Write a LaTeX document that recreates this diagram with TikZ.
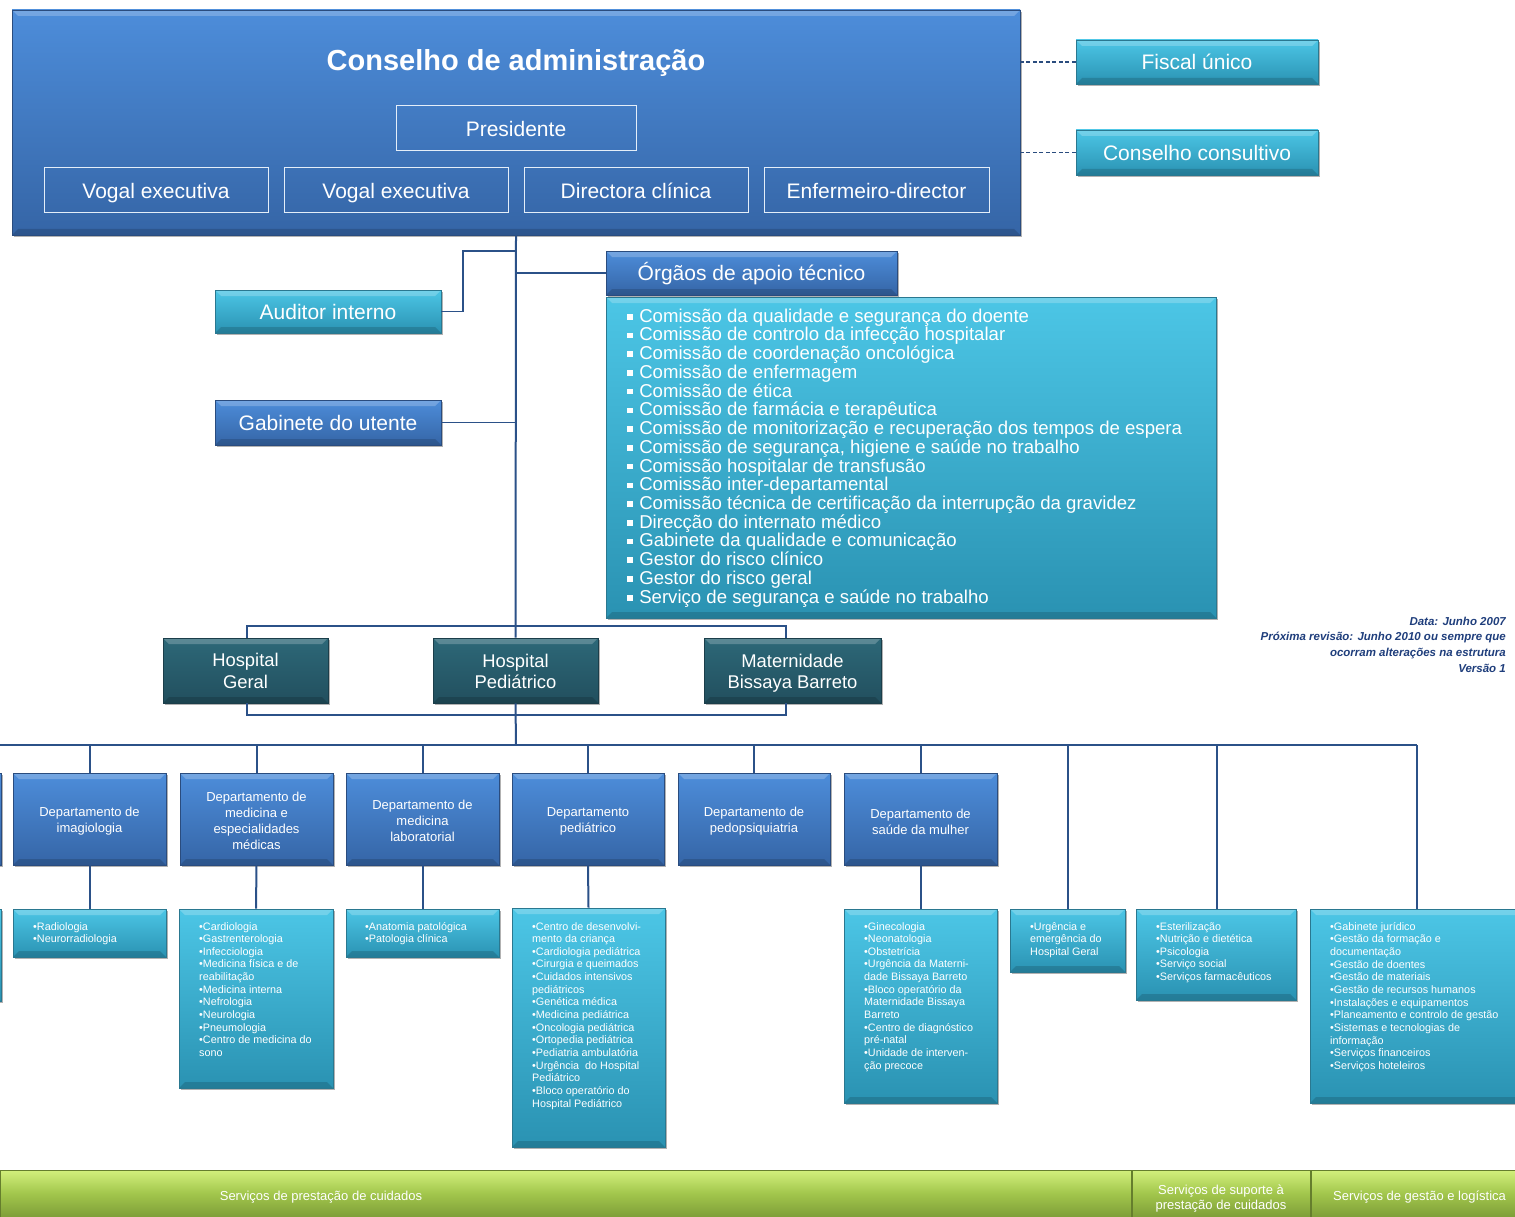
\documentclass[tikz,border=0pt]{standalone}
\usepackage{fontspec}
\setmainfont{Liberation Sans}
\usetikzlibrary{shadows}
\definecolor{blueT}{HTML}{4D8DDA}
\definecolor{blueB}{HTML}{3565A6}
\definecolor{blueD}{HTML}{2A4C7E}
\definecolor{cyanT}{HTML}{4CC6E6}
\definecolor{cyanB}{HTML}{2A92B2}
\definecolor{cyanD}{HTML}{2A7890}
\definecolor{tealT}{HTML}{2D6878}
\definecolor{tealB}{HTML}{224F5E}
\definecolor{tealD}{HTML}{1B3E4A}
\definecolor{greenT}{HTML}{D2F07C}
\definecolor{greenM}{HTML}{A2C64C}
\definecolor{greenB}{HTML}{7E9E38}
\definecolor{lineC}{HTML}{2B5188}
\definecolor{noteC}{HTML}{1F3E7C}
\newcommand\sqb{\rule[0.14em]{0.3em}{0.3em}\hspace{0.35em}}
\tikzset{
  wh/.style 2 args={minimum width=#1pt, minimum height=#2pt},
  bevel/.style={path picture={
     \fill[white,opacity=0.22] (path picture bounding box.north west) -- (path picture bounding box.north east)
        -- ([xshift=-6pt,yshift=-6pt]path picture bounding box.north east) -- ([xshift=6pt,yshift=-6pt]path picture bounding box.north west) -- cycle;
     \fill[black,opacity=0.15] (path picture bounding box.south west) -- (path picture bounding box.south east)
        -- ([xshift=-6pt,yshift=6pt]path picture bounding box.south east) -- ([xshift=6pt,yshift=6pt]path picture bounding box.south west) -- cycle;}},
  shad/.style={general shadow={shadow xshift=2pt, shadow yshift=-2pt, fill=black, opacity=0.3}},
  bluebox/.style={draw=blueD, line width=0.8pt, top color=blueT, bottom color=blueB, text=white, align=center, inner sep=0pt, bevel, shad},
  cyanbox/.style={draw=cyanD, line width=0.8pt, top color=cyanT, bottom color=cyanB, text=white, align=center, inner sep=0pt, bevel, shad},
  tealbox/.style={draw=tealD, line width=0.8pt, top color=tealT, bottom color=tealB, text=white, align=center, inner sep=0pt, bevel, shad},
  greenbox/.style={draw=greenB!80!black, line width=0.6pt, top color=greenT, bottom color=greenB, middle color=greenM, inner sep=0pt},
  t21/.style={font=\fontsize{21}{25}\selectfont, text height=15.6pt, text depth=0pt},
  innerbox/.style={draw=white!85!blueT, line width=1pt, text=white, inner sep=0pt, t21},
  conn/.style={draw=lineC, line width=2pt},
  thinconn/.style={draw=lineC, line width=1.6pt},
  dashconn/.style={draw=blueD, line width=1.4pt, dashed, dash pattern=on 4pt off 2.5pt},
  deptxt/.style={text=white, align=center, inner sep=0pt, font=\fontsize{13}{16}\selectfont},
  hosptxt/.style={text=white, align=center, inner sep=0pt, font=\fontsize{18.4}{21.5}\selectfont},
  listtxt/.style={text=white, align=left, anchor=north west, inner sep=0pt, font=\fontsize{10.8}{12.65}\selectfont},
  bartxt/.style={text=white, align=center, inner sep=0pt, font=\fontsize{13}{15.5}\selectfont},
}
\begin{document}
\begin{tikzpicture}[x=1pt,y=-1pt]
\useasboundingbox (0,0) rectangle (1515,1217);
\fill[white] (0,0) rectangle (1515,1217);

% Conselho de administracao
\node[bluebox, wh={1008}{225}] (cons) at (516,122.5) {};
\node[text=white, font=\fontsize{29}{34}\bfseries] (constitle) at (516,63.5) {Conselho de administração};
\node[innerbox, wh={240}{45}] (pres) at (516,128.5) {Presidente};
\node[innerbox, wh={224}{45}] (vog1) at (156,190.5) {Vogal executiva};
\node[innerbox, wh={224}{45}] (vog2) at (396,190.5) {Vogal executiva};
\node[innerbox, wh={224}{45}] (dirc) at (636,190.5) {Directora clínica};
\node[innerbox, wh={225}{45}] (enf) at (876.5,190.5) {Enfermeiro-director};

% Fiscal / consultivo
\node[cyanbox, wh={242}{44}, t21] (fiscal) at (1197,62) {Fiscal único};
\node[cyanbox, wh={242}{45}, t21] (consult) at (1197,152.5) {Conselho consultivo};
\draw[dashconn] (fiscal.west) -- (fiscal.west -| cons.east);
\draw[dashconn] (consult.west) -- (consult.west -| cons.east);

% Auditor, Gabinete, Orgaos
\node[cyanbox, wh={226}{43}, t21] (aud) at (328,311.5) {Auditor interno};
\node[bluebox, wh={226}{45}, t21] (gab) at (328,422.5) {Gabinete do utente};
\node[bluebox, wh={291}{44}, t21] (org) at (751.5,273) {Órgãos de apoio técnico};
\node[cyanbox, wh={610}{321}] (orglist) at (911,457.5) {};
\node[text=white, align=left, anchor=north west, inner sep=0pt, font=\fontsize{18.6}{18.73}\selectfont] (orgtxt) at (627,308.5) {%
\sqb Comissão da qualidade e segurança do doente\\
\sqb Comissão de controlo da infecção hospitalar\\
\sqb Comissão de coordenação oncológica\\
\sqb Comissão de enfermagem\\
\sqb Comissão de ética\\
\sqb Comissão de farmácia e terapêutica\\
\sqb Comissão de monitorização e recuperação dos tempos de espera\\
\sqb Comissão de segurança, higiene e saúde no trabalho\\
\sqb Comissão hospitalar de transfusão\\
\sqb Comissão inter-departamental\\
\sqb Comissão técnica de certificação da interrupção da gravidez\\
\sqb Direcção do internato médico\\
\sqb Gabinete da qualidade e comunicação\\
\sqb Gestor do risco clínico\\
\sqb Gestor do risco geral\\
\sqb Serviço de segurança e saúde no trabalho};

% Hospitals
\node[tealbox, wh={165}{65}] (hg) at (245.5,670.5) {};
\node[tealbox, wh={165}{65}] (hp) at (515.5,670.5) {};
\node[tealbox, wh={177}{65}] (mbb) at (792.5,670.5) {};
\node[hosptxt] (hgt) at ([yshift=-0.5pt]hg.center) {Hospital\\Geral};
\node[hosptxt] (hpt) at ([yshift=-1pt]hp.center) {Hospital\\Pediátrico};
\node[hosptxt] (mbbt) at ([yshift=-2.5pt]mbb.center) {Maternidade\\Bissaya Barreto};

% spine coordinates
\coordinate (sA) at (516,251);
\coordinate (sAud) at (463,311.5);
\coordinate (tb) at (516,626);
\coordinate (bb) at (516,715);
\coordinate (bus) at (516,745);
\coordinate (hgx) at (247,0);
\coordinate (mbx) at (786,0);

\draw[conn] (cons.south) -- (hp.north);
\draw[thinconn] (aud.east) -- (sAud) |- (sA);
\draw[thinconn] (gab.east) -- (gab.east -| cons.south);
\draw[thinconn] (org.west) -- (org.west -| cons.south);
\draw[thinconn] (hgx |- hg.north) -- (hgx |- tb) -- (mbx |- tb) -- (mbx |- mbb.north);
\draw[thinconn] (hgx |- hg.south) -- (hgx |- bb) -- (mbx |- bb) -- (mbx |- mbb.south);
\draw[conn] (hp.south) -- (bus);

% Departments
\node[bluebox, wh={153}{92}] (d1) at (89.5,819) {};
\node[bluebox, wh={153}{92}] (d2) at (256.5,819) {};
\node[bluebox, wh={153}{92}] (d3) at (422.5,819) {};
\node[bluebox, wh={152}{92}] (d4) at (588,819) {};
\node[bluebox, wh={152}{92}] (d5) at (754,819) {};
\node[bluebox, wh={153}{92}] (d6) at (920.5,819) {};
\node[deptxt] (d1t) at ([yshift=-2.5pt]d1.center) {Departamento de\\imagiologia};
\node[deptxt] (d2t) at ([yshift=-2pt]d2.center) {Departamento de\\medicina e\\especialidades\\médicas};
\node[deptxt] (d3t) at ([yshift=-2pt]d3.center) {Departamento de\\medicina\\laboratorial};
\node[deptxt] (d4t) at ([yshift=-2.5pt]d4.center) {Departamento\\pediátrico};
\node[deptxt] (d5t) at ([yshift=-2.5pt]d5.center) {Departamento de\\pedopsiquiatria};
\node[deptxt] (d6t) at ([yshift=-2.5pt]d6.center) {Departamento de\\saúde da mulher};
% partially visible boxes at left edge
\node[bluebox, wh={153}{92}] (d0) at (-75.5,819) {};
\node[cyanbox, wh={153}{92}] (l0) at (-75.5,955) {};

% Lists
\node[cyanbox, wh={153}{48}] (l1) at (89.5,933) {};
\node[cyanbox, wh={154}{179}] (l2) at (256,998.5) {};
\node[cyanbox, wh={153}{48}] (l3) at (422.5,933) {};
\node[cyanbox, wh={153}{239}] (l4) at (588.5,1027.5) {};
\node[cyanbox, wh={153}{194}] (l6) at (920.5,1006) {};
\node[cyanbox, wh={115}{63}] (l7) at (1067.5,940.5) {};
\node[cyanbox, wh={160}{91}] (l8) at (1216,954.5) {};
\node[cyanbox, wh={220}{194}] (l9) at (1420,1006) {};

\node[listtxt] (t1) at (33,922) {•Radiologia\\•Neurorradiologia};
\node[listtxt] (t2) at (199,922) {•Cardiologia\\•Gastrenterologia\\•Infecciologia\\•Medicina física e de\\reabilitação\\•Medicina interna\\•Nefrologia\\•Neurologia\\•Pneumologia\\•Centro de medicina do\\sono};
\node[listtxt] (t3) at (365,922) {•Anatomia patológica\\•Patologia clínica};
\node[listtxt] (t4) at (532,922) {•Centro de desenvolvi-\\mento da criança\\•Cardiologia pediátrica\\•Cirurgia e queimados\\•Cuidados intensivos\\pediátricos\\•Genética médica\\•Medicina pediátrica\\•Oncologia pediátrica\\•Ortopedia pediátrica\\•Pediatria ambulatória\\•Urgência\ \ do Hospital\\Pediátrico\\•Bloco operatório do\\Hospital Pediátrico};
\node[listtxt] (t6) at (864,922) {•Ginecologia\\•Neonatologia\\•Obstetrícia\\•Urgência da Materni-\\dade Bissaya Barreto\\•Bloco operatório da\\Maternidade Bissaya\\Barreto\\•Centro de diagnóstico\\pré-natal\\•Unidade de interven-\\ção precoce};
\node[listtxt] (t7) at (1030,922) {•Urgência e\\emergência do\\Hospital Geral};
\node[listtxt] (t8) at (1156,922) {•Esterilização\\•Nutrição e dietética\\•Psicologia\\•Serviço social\\•Serviços farmacêuticos};
\node[listtxt] (t9) at (1330,922) {•Gabinete jurídico\\•Gestão da formação e\\documentação\\•Gestão de doentes\\•Gestão de materiais\\•Gestão de recursos humanos\\•Instalações e equipamentos\\•Planeamento e controlo de gestão\\•Sistemas e tecnologias de\\informação\\•Serviços financeiros\\•Serviços hoteleiros};

% Bus and drops
\coordinate (busL) at (-5,745);
\coordinate (b7) at (1068,745);
\coordinate (b8) at (1217,745);
\coordinate (b9) at (1417,745);
\draw[conn] (busL) -- (b9);
\foreach \d in {d1,d2,d3,d4,d5,d6}{
  \draw[conn] (\d.north |- bus) -- (\d.north);
}
\draw[conn] (b7) -- (b7 |- l7.north);
\draw[conn] (b8) -- (b8 |- l8.north);
\draw[conn] (b9) -- (b9 |- l9.north);
\draw[conn] (d1.south) -- (l1.north);
\draw[conn] (d2.south) -- (l2.north);
\draw[conn] (d3.south) -- (l3.north);
\draw[conn] (d4.south) -- (l4.north);
\draw[conn] (d6.south) -- (l6.north);

% Note
\node[anchor=north east, align=right, inner sep=0pt, text=noteC, font=\fontsize{11.5}{15.8}\bfseries\itshape] (note) at (1506,616.5) {Data: Junho 2007\\Próxima revisão: Junho 2010 ou sempre que\\ocorram alterações na estrutura\\Versão 1};

% Bottom bar
\node[greenbox, wh={1131}{47}] (g1) at (565.5,1193.5) {};
\node[greenbox, wh={178}{47}] (g2) at (1221,1193.5) {};
\node[greenbox, wh={220}{47}] (g3) at (1421,1193.5) {};
\node[bartxt] (g1t) at (321,1197.5) {Serviços de prestação de cuidados};
\node[bartxt] (g2t) at (1221,1198.5) {Serviços de suporte à\\prestação de cuidados};
\node[bartxt, anchor=west] (g3t) at (1333,1197.5) {Serviços de gestão e logística};
\end{tikzpicture}
\end{document}
